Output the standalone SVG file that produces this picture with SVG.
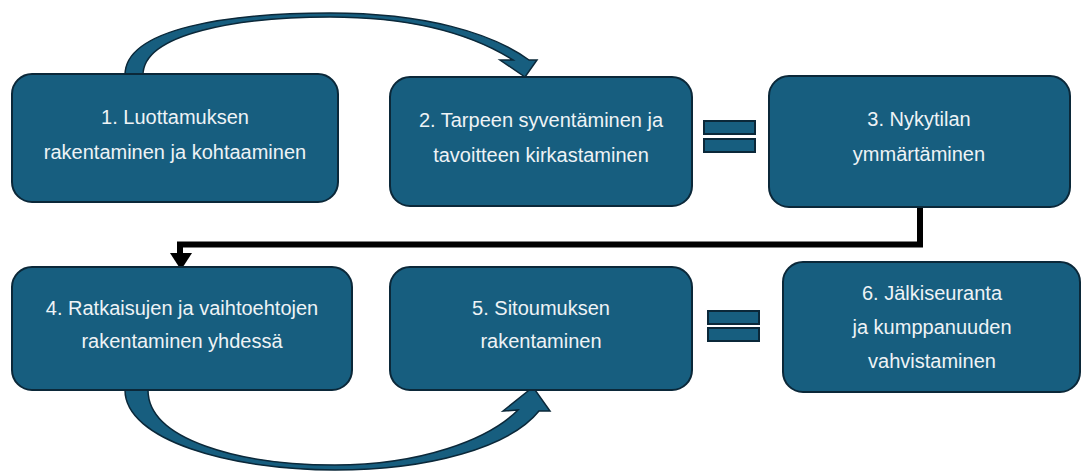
<svg xmlns="http://www.w3.org/2000/svg" width="1083" height="473" viewBox="0 0 1083 473">
<defs>
<style>
.box{fill:#175e7f;stroke:#0b2839;stroke-width:2}
.lbl{font-family:"Liberation Sans",Arial,sans-serif;font-size:20px;fill:#eef3f6;text-anchor:middle}
.eq{fill:#175e7f;stroke:#0b2839;stroke-width:2}
.curve{fill:#175e7f;stroke:#0b2839;stroke-width:1.5;stroke-linejoin:miter}
.elbow{fill:none;stroke:#000;stroke-width:6}
</style>
</defs>
<rect width="1083" height="473" fill="#ffffff"/>
<g id="connectors">
<path class="curve" d="M125,75 C125,28 230,13 330,13 C425,13 492,33 529,60 L537,60 L525,77 L500,60 L513,60 C478,38 420,17 330,17 C240,17 143,33 143,75 Z"/>
<path class="curve" d="M125,390 C125,440 230,470 335,470 C430,470 510,447 539,411 L550,411 L533,387 L503,411 L518,410 C488,440 420,465 335,465 C240,465 148,440 148,390 Z"/>
<path class="elbow" d="M920,207 L920,244.5 L180,244.5 L180,256"/>
<polygon points="170,253 192,253 181,270" fill="#000"/>
<rect class="eq" x="704" y="121" width="51" height="13"/>
<rect class="eq" x="704" y="139" width="51" height="13"/>
<rect class="eq" x="708" y="311" width="51" height="13"/>
<rect class="eq" x="708" y="328" width="51" height="13"/>
</g>
<g id="node1">
<rect class="box" x="12" y="74" width="326" height="128" rx="20"/>
<text class="lbl" x="175" y="124">1. Luottamuksen</text>
<text class="lbl" x="175" y="159">rakentaminen ja kohtaaminen</text>
</g>
<g id="node2">
<rect class="box" x="390" y="77" width="302" height="129" rx="20"/>
<text class="lbl" x="541" y="127">2. Tarpeen syventäminen ja</text>
<text class="lbl" x="541" y="162">tavoitteen kirkastaminen</text>
</g>
<g id="node3">
<rect class="box" x="769" y="76" width="301" height="131" rx="20"/>
<text class="lbl" x="919" y="126">3. Nykytilan</text>
<text class="lbl" x="919" y="161">ymmärtäminen</text>
</g>
<g id="node4">
<rect class="box" x="12" y="267" width="340" height="123" rx="20"/>
<text class="lbl" x="182" y="315">4. Ratkaisujen ja vaihtoehtojen</text>
<text class="lbl" x="182" y="348">rakentaminen yhdessä</text>
</g>
<g id="node5">
<rect class="box" x="390" y="267" width="302" height="123" rx="20"/>
<text class="lbl" x="541" y="315">5. Sitoumuksen</text>
<text class="lbl" x="541" y="348">rakentaminen</text>
</g>
<g id="node6">
<rect class="box" x="783" y="262" width="297" height="130" rx="20"/>
<text class="lbl" x="932" y="300">6. Jälkiseuranta</text>
<text class="lbl" x="932" y="334">ja kumppanuuden</text>
<text class="lbl" x="932" y="368">vahvistaminen</text>
</g>
</svg>
